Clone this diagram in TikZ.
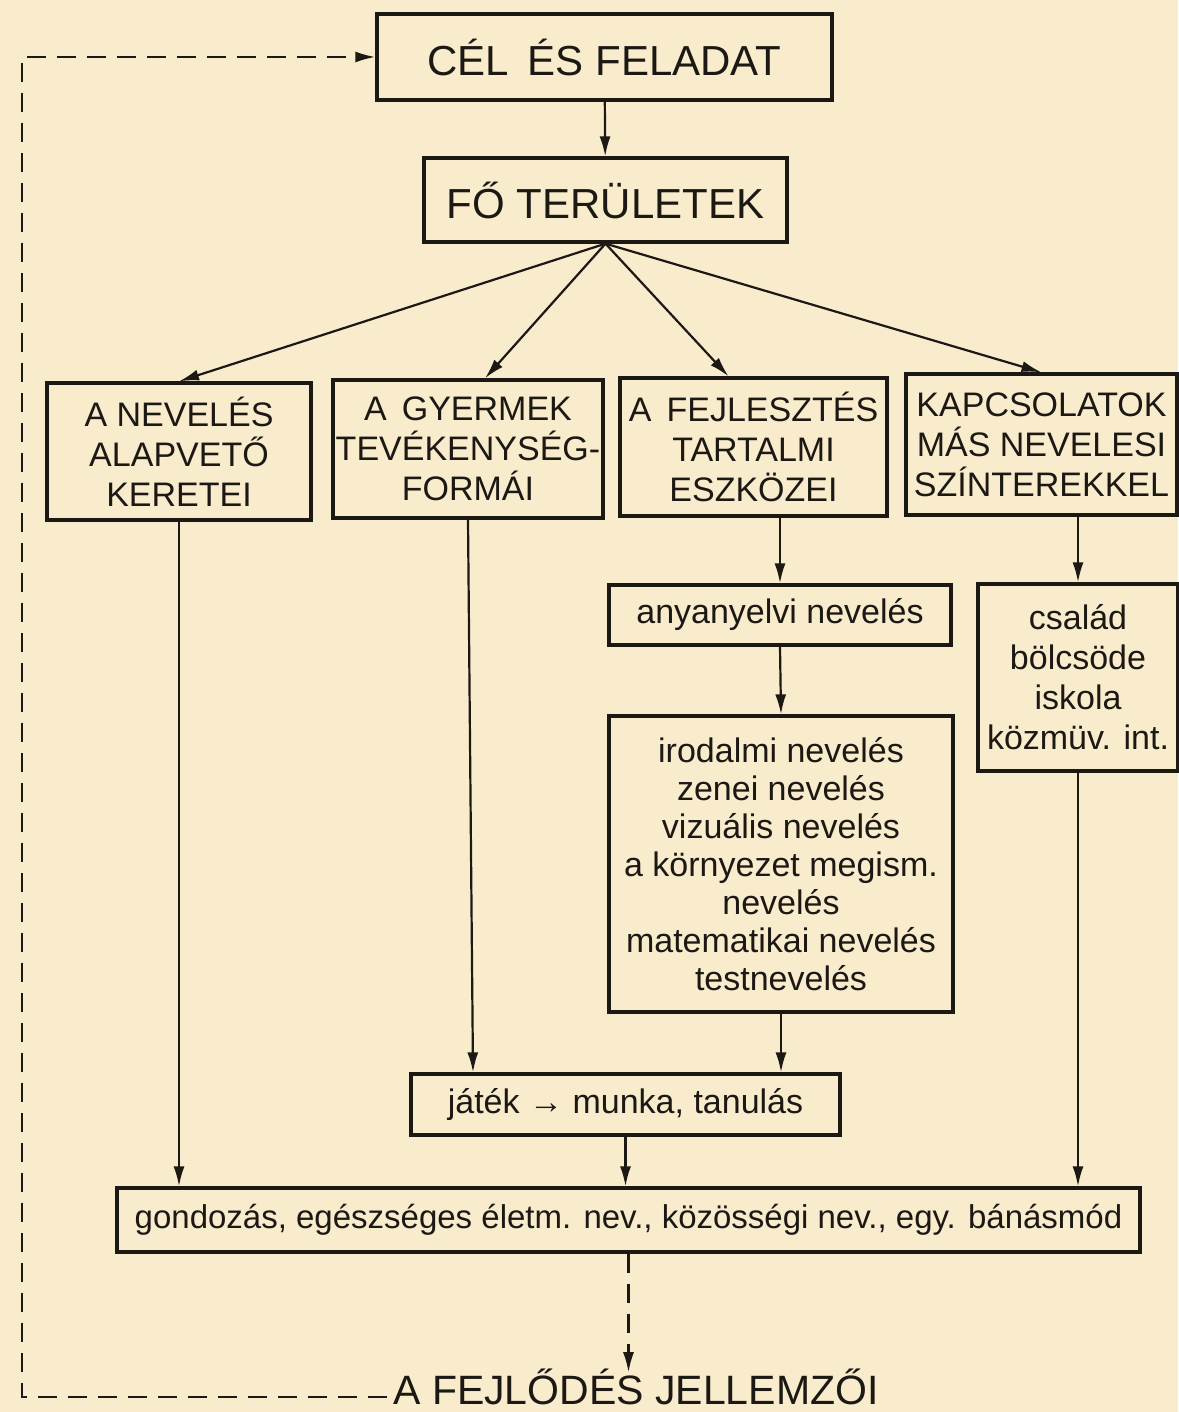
\documentclass[tikz,border=0pt]{standalone}
\usepackage{fontspec}
\setmainfont{Liberation Sans}
\usetikzlibrary{arrows.meta,positioning}
\definecolor{paper}{RGB}{249,236,204}
\definecolor{ink}{RGB}{28,24,20}

\begin{document}
\begin{tikzpicture}[x=1pt, y=-1pt,
  box/.style={draw=ink, line width=3.3pt, text=ink, align=center,
    inner sep=0pt, font=\fontsize{34}{40}\selectfont},
  bigbox/.style={box, font=\fontsize{42}{50}\selectfont},
  arr/.style={draw=ink, line width=2.2pt, -{Latex[length=20pt, width=11pt]}},
  loopline/.style={arr, dash pattern=on 19pt off 11pt}]
\fill[paper] (0,0) rectangle (1178,1412);
\useasboundingbox (0,0) rectangle (1178,1412);
% top of the scheme
\node[bigbox, minimum width=455, minimum height=86] (cel) at (604.5, 57)
  {CÉL\, ÉS FELADAT};
\node[bigbox, minimum width=363, minimum height=84] (fo) at (605.5, 200)
  {FŐ TERÜLETEK};
% four main areas
\node[box, minimum width=264, minimum height=137] (keret) at (179, 451.5)
  {A NEVELÉS\\ALAPVETŐ\\KERETEI};
\node[box, minimum width=270, minimum height=138] (tev) at (468, 449)
  {A\, GYERMEK\\TEVÉKENYSÉG-\\FORMÁI};
\node[box, minimum width=267, minimum height=138] (fejl) at (753.5, 447)
  {A\, FEJLESZTÉS\\TARTALMI\\ESZKÖZEI};
\node[box, minimum width=271, minimum height=141] (kapcs) at (1041.5, 444.5)
  {KAPCSOLATOK\\MÁS NEVELESI\\SZÍNTEREKKEL};
% contents
\node[box, minimum width=342, minimum height=60] (anya) at (780, 615)
  {anyanyelvi nevelés};
\node[box, minimum width=200, minimum height=187] (csal) at (1078, 677.5)
  {család\\bölcsöde\\iskola\\közmüv. int.};
\node[box, minimum width=344, minimum height=296,
  font=\fontsize{34}{38}\selectfont] (irod) at (781, 864)
  {irodalmi nevelés\\zenei nevelés\\vizuális nevelés\\a környezet megism.\\nevelés\\matematikai nevelés\\testnevelés};
\node[box, minimum width=429, minimum height=61] (jatek) at (625.5, 1104.5)
  {játék \textbf{→} munka, tanulás};
\node[box, minimum width=1023, minimum height=64,
  font=\fontsize{33}{40}\selectfont] (gond) at (628.5, 1220)
  {gondozás, egészséges életm. nev., közösségi nev., egy. bánásmód};
\node[text=ink, inner sep=0pt, anchor=base, font=\fontsize{41}{48}\selectfont]
  (jell) at (636, 1404) {A FEJLŐDÉS JELLEMZŐI};
\coordinate (loop) at (22, 57);
% connectors
\draw[arr] (cel) -- (fo);
\draw[arr] (fo.south) -- (keret.north);
\draw[arr] (fo.south) -- ([xshift=17pt]tev.north);
\draw[arr] (fo.south) -- ([xshift=-25pt]fejl.north);
\draw[arr] (fo.south) -- (kapcs.north);
\draw[arr] (keret.south) -- (keret.south |- gond.north);
\draw[arr] (tev.south) -- ([xshift=5pt]tev.south |- jatek.north);
\draw[arr] (fejl.south -| anya.north) -- (anya.north);
\draw[arr] (anya.south) -- (irod.north);
\draw[arr] (irod.south) -- (irod.south |- jatek.north);
\draw[arr] (kapcs.south -| csal.north) -- (csal.north);
\draw[arr] (csal.south) -- (csal.south |- gond.north);
\draw[arr] (jatek.south) -- (jatek.south |- gond.north);
\draw[loopline] (gond.south) -- ([yshift=-4pt]gond.south |- jell.north);
\draw[loopline] ([xshift=-6pt, yshift=7pt]jell.base west) -| (loop) -- (cel.west);
\end{tikzpicture}
\end{document}
